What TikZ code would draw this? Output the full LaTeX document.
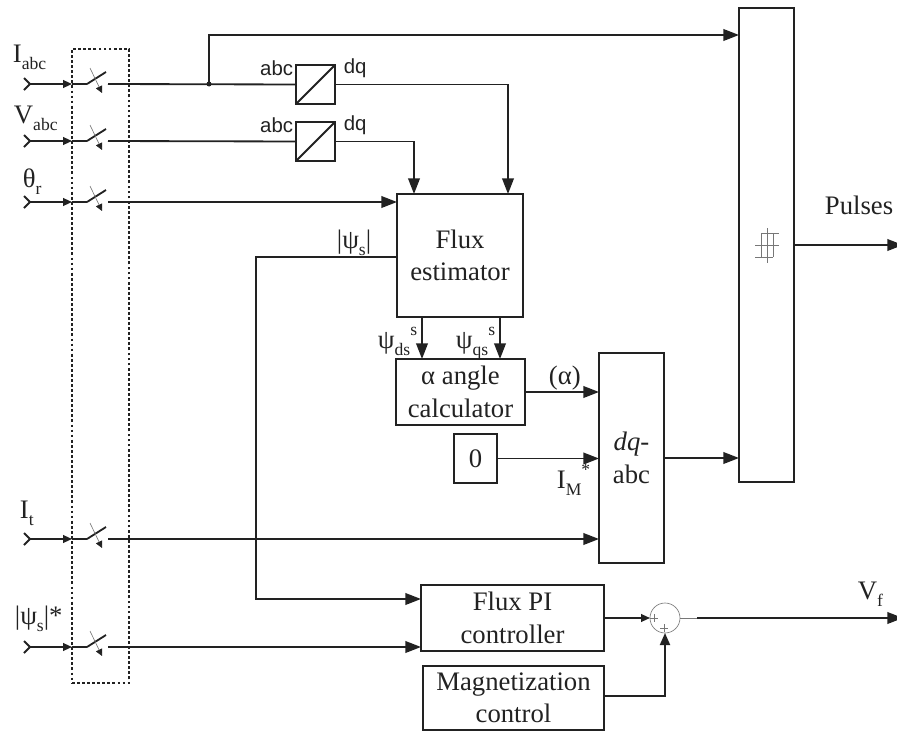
\documentclass[tikz,border=0pt]{standalone}
\usepackage{fontspec}
\setmainfont{Liberation Serif}
\setsansfont{Liberation Sans}
\usepackage{xcolor}
\usetikzlibrary{positioning, arrows.meta, calc}
\definecolor{ink}{HTML}{222222}
\definecolor{dim}{HTML}{777777}
\newcommand{\lowtxt}[1]{\raisebox{-5pt}{\fontsize{12.5}{12.5}\selectfont #1}}
\newcommand{\uptxt}[1]{\raisebox{9pt}{\fontsize{12.5}{12.5}\selectfont #1}}

\begin{document}
\begin{tikzpicture}[
  x=0.25mm, y=-0.25mm,
  line width=1.3pt, draw=ink, text=ink,
  font=\fontsize{19}{23}\selectfont,
  blk/.style={rectangle, draw=ink, line width=1.3pt, fill=white, align=center,
              inner sep=0pt, outer sep=0pt, anchor=north west},
  cnv/.style={blk, minimum width=9.75mm, minimum height=9.75mm},
  lab/.style={anchor=base west, inner sep=0pt},
  sflab/.style={inner sep=0pt, font=\sffamily\fontsize{14.5}{16}\selectfont},
  arr/.style={-{Triangle[length=3.9mm, width=2.9mm]}, draw=ink, line width=1.3pt},
  marr/.style={-{Triangle[length=3mm, width=2.5mm]}, draw=ink, line width=1.3pt},
  sarr/.style={-{Triangle[length=2.2mm, width=1.9mm]}, draw=ink, line width=1.2pt},
  thin line/.style={draw=dim, line width=0.45pt},
  swtch/.pic={
    \coordinate (-in) at (0,0);
    \coordinate (-out) at (21,0);
    \draw (0,0) -- (19,-12);
    \draw[thin line, -{Triangle[length=1.7mm, width=1.7mm, color=ink]}] (3,-16) -- (15,9);
  },
  chev/.pic={
    \coordinate (-tip) at (0,0);
    \draw (-6,-6) -- (0,0) -- (-6,6);
  }
]
\useasboundingbox (0,0) rectangle (897,731);

% --- blocks ---
\node[blk, minimum width=31.5mm, minimum height=30.75mm] at (397,194) (flux) {Flux\\estimator};
\node[blk, minimum width=32.25mm, minimum height=16.5mm] at (396,359) (alfa) {α angle\\calculator};
\node[blk, minimum width=10.75mm, minimum height=12.25mm] at (454,434) (zero) {0};
\node[blk, minimum width=16.25mm, minimum height=52.5mm] at (599,353) (dqabc) {\textit{dq}-\\abc};
\node[blk, minimum width=13.75mm, minimum height=118.5mm] at (739,8) (pwm) {};
\node[blk, minimum width=45.75mm, minimum height=16.5mm] at (421,585) (pi) {Flux PI\\controller};
\node[blk, minimum width=45.25mm, minimum height=16mm] at (423,666) (mag) {Magnetization\\control};
\node[cnv] at (296,65)  (conva) {};
\node[cnv] at (296,122) (convb) {};
\node[circle, draw=dim, line width=0.45pt, minimum size=7.5mm, inner sep=0pt, outer sep=0pt] at (665,618) (sum) {};
\node[draw=ink, dash pattern=on 2pt off 1.6pt, line width=1.3pt, anchor=north west,
      minimum width=14.25mm, minimum height=158.5mm, inner sep=0pt, outer sep=0pt] at (72,49) (gang) {};

% --- converter diagonals ---
\draw (conva.south west) -- (conva.north east);
\draw (convb.south west) -- (convb.north east);

% --- inputs and switches ---
\pic (cha) at (30,84)  {chev};
\pic (chb) at (30,141) {chev};
\pic (chc) at (30,202) {chev};
\pic (chd) at (30,539) {chev};
\pic (che) at (30,647) {chev};
\pic (swa) at (87,84)  {swtch};
\pic (swb) at (87,141) {swtch};
\pic (swc) at (87,202) {swtch};
\pic (swd) at (87,539) {swtch};
\pic (swe) at (87,647) {swtch};
\coordinate (gata) at (72,84);
\coordinate (gatb) at (72,141);
\coordinate (gatc) at (72,202);
\coordinate (gatd) at (72,539);
\coordinate (gate) at (72,647);
\draw[sarr] (cha-tip) -- (gata);
\draw[sarr] (chb-tip) -- (gatb);
\draw[sarr] (chc-tip) -- (gatc);
\draw[sarr] (chd-tip) -- (gatd);
\draw[sarr] (che-tip) -- (gate);
\draw (gata) -- (swa-in);
\draw (gatb) -- (swb-in);
\draw (gatc) -- (swc-in);
\draw (gatd) -- (swd-in);
\draw (gate) -- (swe-in);

% --- arrows: switches to blocks ---
\coordinate (tapa) at (209,84);
\fill[ink] (tapa) circle (2.5);
\draw (swa-out) -- (conva.west);
\draw (swb-out) -- (convb.west);
\draw[arr] (tapa) |- (pwm.west |- 0,35);
\draw[arr] (swc-out) -- (flux.west |- swc-out);
\draw[arr] (swd-out) -- (dqabc.west |- swd-out);
\draw[arr] (swe-out) -- (pi.west |- swe-out);

% --- arrows: converters to flux estimator ---
\draw[arr] (conva.east) -| (flux.north -| 508,0);
\draw[arr] (convb.east) -| (flux.north -| 414,0);

% --- arrows: flux estimator onward ---
\draw[arr] (flux.south -| 422,0) -- (alfa.north -| 422,0);
\draw[arr] (flux.south -| 500,0) -- (alfa.north -| 500,0);
\coordinate (fbk) at (256,257);
\draw[arr] (flux.west |- fbk) -- (fbk) |- (pi.west |- 0,599);
\draw[arr] (alfa.east |- 0,392) -- (dqabc.west |- 0,392);
\draw[arr] (zero.east) -- (dqabc.west |- zero.east);
\draw[arr] (dqabc.east |- 0,458) -- (pwm.west |- 0,458);

% --- arrows: outputs ---
\coordinate (pul) at (903,245);
\draw[arr] (pwm.east |- pul) -- (pul);
\coordinate (vfk) at (697,618);
\coordinate (vfo) at (903,618);
\draw[sarr] (pi.east |- sum) -- (sum.west);
\draw[marr] (mag.east |- 0,696) -| (sum.south);
\draw[thin line] (sum.east) -- (vfk);
\draw[arr] (vfk) -- (vfo);

% --- thin marks ---
\draw[thin line] (761,233) -- (761,257) (767,228) -- (767,263) (773,233) -- (773,257)
  (761,233) -- (779,233) (755,245) -- (779,245) (755,257) -- (773,257);
\draw[thin line] (650,618) -- (658,618) (654,614) -- (654,622);
\draw[thin line] (660,628) -- (668,628) (664,624) -- (664,632);

% --- labels ---
\node[lab] at (12,62)   (lia) {I\lowtxt{abc}};
\node[lab] at (13,123)  (lva) {V\lowtxt{abc}};
\node[lab] at (22,187)  (lth) {θ\lowtxt{r}};
\node[lab] at (19,518)  (lit) {I\lowtxt{t}};
\node[lab] at (14,624)  (lps) {|ψ\lowtxt{s}|*};
\node[lab] at (336,248) (lfb) {|ψ\lowtxt{s}|};
\node[lab] at (377,348) (lds) {ψ\lowtxt{ds}\uptxt{s}};
\node[lab] at (455,348) (lqs) {ψ\lowtxt{qs}\uptxt{s}};
\node[lab] at (548,384) (lal) {(α)};
\node[lab] at (556,488) (lim) {I\lowtxt{M}\uptxt{*}};
\node[lab] at (824,214) (lpu) {Pulses};
\node[lab] at (857,599) (lvf) {V\lowtxt{f}};
\node[sflab, anchor=east] at (294,68)  (abca) {abc};
\node[sflab, anchor=west] at (343,68)  (dqa)  {dq};
\node[sflab, anchor=east] at (294,125) (abcb) {abc};
\node[sflab, anchor=west] at (343,125) (dqb)  {dq};
\end{tikzpicture}
\end{document}
